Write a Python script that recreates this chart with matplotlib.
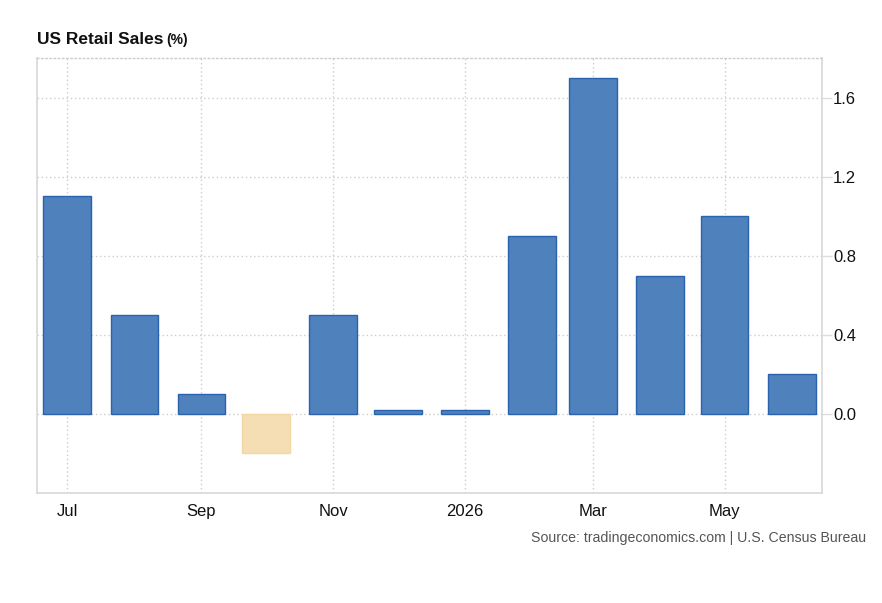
import matplotlib
matplotlib.use("Agg")
import matplotlib.pyplot as plt
import matplotlib.dates as mdates
import pandas as pd

months = ["2025-07-01", "2025-08-01", "2025-09-01", "2025-10-01", "2025-11-01", "2025-12-01",
          "2026-01-01", "2026-02-01", "2026-03-01", "2026-04-01", "2026-05-01", "2026-06-01"]
values = [1.1, 0.5, 0.1, -0.2, 0.5, 0.02, 0.02, 0.9, 1.7, 0.7, 1.0, 0.2]
xtick_dates = ["2025-07-01", "2025-09-01", "2025-11-01", "2026-01-01", "2026-03-01", "2026-05-01"]
xtick_labels = ["Jul", "Sep", "Nov", "2026", "Mar", "May"]
yticks = [0.0, 0.4, 0.8, 1.2, 1.6]
ytick_labels = ["0.0", "0.4", "0.8", "1.2", "1.6"]

plt.rcParams['font.family'] = ['Liberation Sans', 'DejaVu Sans']

fig = plt.figure(figsize=(8.82, 6.03), dpi=100)
ax = fig.add_axes([37/882, 1-493/603, (822-37)/882, (493-58)/603])

dates = pd.to_datetime(months)
xnum = mdates.date2num(dates)
fills = ["#4f81bd" if v >= 0 else "#f5deb3" for v in values]
edges = ["#2a62b0" if v >= 0 else "#f3d8a6" for v in values]
ax.bar(xnum, values, width=22, color=fills, edgecolor=edges, linewidth=1.0, zorder=3)

ax.set_xlim(mdates.date2num(pd.Timestamp("2025-06-17")), mdates.date2num(pd.Timestamp("2026-06-15")))
ax.set_ylim(-0.4, 1.8)

ax.set_xticks(mdates.date2num(pd.to_datetime(xtick_dates)))
ax.set_xticklabels(xtick_labels)
ax.yaxis.tick_right()
ax.set_yticks(yticks)
ax.set_yticklabels(ytick_labels)

ax.tick_params(axis='x', length=0, labelsize=12, pad=8, colors='#111111')
ax.tick_params(axis='y', length=7, width=1, color='#dddddd', labelsize=12, pad=1, labelcolor='#111111')

ax.grid(True, which='major', color='#cccccc', linestyle=(0, (1, 2)), linewidth=1, zorder=0)
for s in ['left', 'bottom', 'right']:
    ax.spines[s].set_color('#d8d8d8')
    ax.spines[s].set_linewidth(1.2)
ax.spines['top'].set_color('#cccccc')
ax.spines['top'].set_linestyle((0, (1, 2)))
ax.spines['top'].set_linewidth(1)

fig.text(37/882, 1-40/603, "US Retail Sales", fontsize=12.5, fontweight='bold', color='#111111', va='center', ha='left')
fig.text(166/882, 1-40/603, "(%)", fontsize=10, fontweight='bold', color='#111111', va='center', ha='left')
fig.text(866/882, 1-538/603, "Source: tradingeconomics.com | U.S. Census Bureau", fontsize=10.2, color='#555555', va='center', ha='right')

fig.savefig("out.png", dpi=100)
